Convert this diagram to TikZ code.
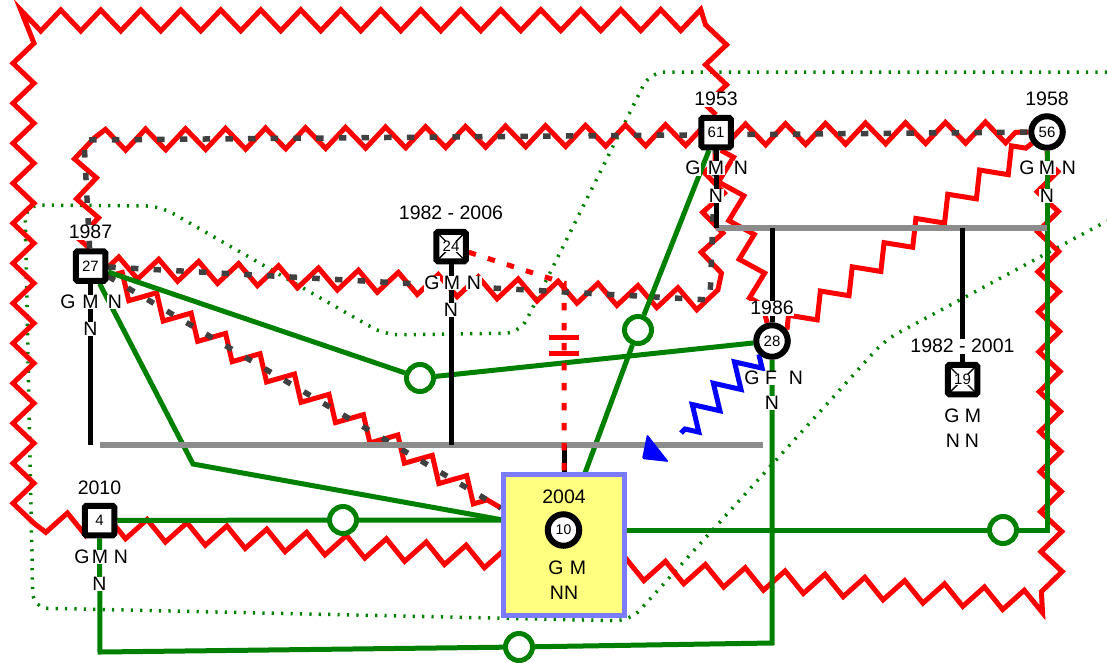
\documentclass[tikz,border=0pt]{standalone}
\usepackage{fontspec}
\setmainfont{Liberation Sans}
\usetikzlibrary{decorations.pathmorphing}
\pgfdeclarelayer{bg}
\pgfsetlayers{bg,main}
\definecolor{hred}{HTML}{FF0000}
\definecolor{grn}{HTML}{008000}
\definecolor{barc}{HTML}{8C8C8C}
\definecolor{dgray}{HTML}{404040}
\definecolor{boxfill}{HTML}{FFFF80}
\definecolor{boxedge}{HTML}{7B7BFF}
\newcommand\gnum{\fontsize{15}{15}\selectfont}
\newcommand\glbl{\fontsize{19.5}{20}\selectfont}
\begin{document}
\begin{tikzpicture}[x=1pt,y=-1pt,
  male/.style={draw=black,line width=6pt,fill=white,minimum size=29.5pt,inner sep=0pt,rounded corners=1.5pt,font=\gnum},
  female/.style={circle,draw=black,line width=6pt,fill=white,minimum size=31.5pt,inner sep=0pt,font=\gnum},
  lbl/.style={fill=white,inner sep=0.6pt,font=\glbl},
  plainlbl/.style={inner sep=0.6pt,font=\glbl},
  numlbl/.style={fill=white,inner sep=0.3pt,font=\gnum},
  relc/.style={circle,draw=grn,fill=white,line width=5pt,minimum size=27pt,inner sep=0pt},
  hostline/.style={draw=hred,line width=5pt,decorate,decoration={zigzag,segment length=40pt,amplitude=10.5pt}},
  distline/.style={draw=dgray,line width=5.5pt,dash pattern=on 7.5pt off 15.2pt},
  closeline/.style={draw=grn,line width=5pt},
  bndline/.style={draw=grn,line width=3.5pt,dash pattern=on 2.2pt off 7.2pt,rounded corners=15pt},
  barline/.style={draw=barc,line width=6pt},
  kinline/.style={draw=black,line width=5pt},
  cutline/.style={draw=hred,line width=5pt,dash pattern=on 7.5pt off 12.5pt},
  blueline/.style={draw=blue,line width=5pt,decorate,decoration={zigzag,segment length=30pt,amplitude=12pt}},
]
\useasboundingbox (0,0) rectangle (1107,662);

% ---- coordinates ----
\coordinate (u1) at (716,228);
\coordinate (u2) at (1047,228);
\coordinate (l1) at (100,445);
\coordinate (l2) at (763,445);
\coordinate (d27) at (90.5,445);
\coordinate (d24) at (451,445);
\coordinate (d2004) at (564,445);
\coordinate (e28) at (772,228);
\coordinate (e19) at (962.5,228);
\coordinate (k1) at (193,464);
\coordinate (k3) at (1047,530);
\coordinate (k4) at (772,643);
\coordinate (k5) at (100,652);
\coordinate (bL) at (503,520);
\coordinate (bR) at (626,530);
\coordinate (bT) at (585,473);
\coordinate (ct) at (564,283);
\coordinate (bz) at (681,433);
\coordinate (h1) at (716,20);
\coordinate (h2) at (23.5,20.5);
\coordinate (h3) at (23.5,520);
\coordinate (h4) at (1052,603);
\coordinate (h5) at (84,140);
\coordinate (h6) at (710,300);

% ---- box of 2004 ----
\node[draw=boxedge,fill=boxfill,line width=5pt,minimum width=121pt,minimum height=141pt,inner sep=0pt] (b2004) at (564,545) {};

% ---- persons ----
\node[male] (p27) at (90.5,266) {27};
\node[male] (p24) at (451,246.5) {};
\draw[line width=1.4pt] (p24) ++(-12,-12) -- ++(24,24);
\draw[line width=1.4pt] (p24) ++(12,-12) -- ++(-24,24);
\node[numlbl] (n24) at (p24) {24};
\node[male] (p61) at (716,132.5) {61};
\node[female] (p56) at (1047,132) {56};
\node[female] (p28) at (772,341) {28};
\node[male] (p19) at (962.5,379.5) {};
\draw[line width=1.4pt] (p19) ++(-12,-12) -- ++(24,24);
\draw[line width=1.4pt] (p19) ++(12,-12) -- ++(-24,24);
\node[numlbl] (n19) at (p19) {19};
\node[male] (p4) at (99.5,520.5) {4};
\node[female,font=\fontsize{14}{14}\selectfont] (p10) at (563.5,530) {10};

% ---- relation circles ----
\node[relc] (c1) at (420,378) {};
\node[relc] (c2) at (343,520) {};
\node[relc] (c3) at (1003,530) {};
\node[relc] (c4) at (638,330) {};
\node[relc] (c5) at (519,647) {};

% ---- labels ----
\node[lbl] (y27) at (90.5,232) {1987};
\node[lbl] (g27) at (68,302) {G};
\node[lbl] (m27) at (90.5,302) {M};
\node[lbl] (n27) at (115,302) {N};
\node[lbl] (nn27) at (90.5,329) {N};

\node[lbl] (y24) at (451,213) {1982 - 2006};
\node[lbl] (g24) at (432,283) {G};
\node[lbl] (m24) at (452,283) {M};
\node[lbl] (n24b) at (474,283) {N};
\node[lbl] (nn24) at (451,310) {N};

\node[lbl] (y61) at (716,99) {1953};
\node[lbl] (g61) at (693,168) {G};
\node[lbl] (m61) at (716,168) {M};
\node[lbl] (n61) at (741,168) {N};
\node[lbl] (nn61) at (716,196) {N};

\node[lbl] (y56) at (1047,99) {1958};
\node[lbl] (g56) at (1027,168) {G};
\node[lbl] (m56) at (1047,168) {M};
\node[lbl] (n56) at (1069,168) {N};
\node[lbl] (nn56) at (1047,196) {N};

\node[lbl] (y28) at (772,308) {1986};
\node[lbl] (g28) at (752,378) {G};
\node[lbl] (f28) at (771,378) {F};
\node[lbl] (n28) at (796,378) {N};
\node[lbl] (nn28) at (772,403) {N};

\node[lbl] (y19) at (962.5,346) {1982 - 2001};
\node[lbl] (g19) at (952,416) {G};
\node[lbl] (m19) at (973,416) {M};
\node[lbl] (n19a) at (953,441) {N};
\node[lbl] (n19b) at (972,441) {N};

\node[lbl] (y4) at (99.5,488) {2010};
\node[lbl] (g4) at (82,557) {G};
\node[lbl] (m4) at (100,557) {M};
\node[lbl] (n4) at (121,557) {N};
\node[lbl] (nn4) at (99.5,584) {N};

\node[plainlbl] (y10) at (564,497) {2004};
\node[plainlbl] (g10) at (556,568) {G};
\node[plainlbl] (m10) at (578,568) {M};
\node[plainlbl] (nn10) at (564,593) {NN};

% ---- connectors (behind) ----
\begin{pgfonlayer}{bg}
\draw[bndline] (1107,72) -- (650,72) -- (520,333) -- (385,335) -- (160,206) -- (25,205) -- (33,608) -- (630,621) -- (885,340) -- (1107,221);

\draw[hostline] (p61) -- (h1) -- (h2) -- (h3) -- (h4) -- (p56);
\draw[hostline] (p27) -- (h5) -- (p56);
\draw[hostline] (p27) -- (h6) -- (p61);
\draw[hostline] (p27) -- (b2004);
\draw[hostline] (p28) -- (p56);
\draw[hostline] (p61) -- (p28);

\draw[distline] (p27) -- (h5) -- (p56);
\draw[distline] (p27) -- (h6) -- (p61);
\draw[distline] (p27) -- (b2004);

\draw[closeline] (p27) -- (c1) -- (p28);
\draw[closeline] (p27) -- (k1) -- (bL);
\draw[closeline] (p61) -- (c4) -- (bT);
\draw[closeline] (p4) -- (c2) -- (bL);
\draw[closeline] (bR) -- (c3) -- (k3) -- (p56);
\draw[closeline] (p28) -- (k4) -- (c5) -- (k5) -- (p4);

\draw[barline] (u1) -- (u2);
\draw[barline] (l1) -- (l2);

\draw[kinline] (p27) -- (d27);
\draw[kinline] (p24) -- (d24);
\draw[kinline] (d2004) -- (b2004.north);
\draw[kinline] (p61) -- (u1);
\draw[kinline] (p28) -- (e28);
\draw[kinline] (p19) -- (e19);

\draw[blueline] (p28) -- (bz);
\fill[blue,rounded corners=1.5pt] (647,434) -- (642,459) -- (669,462) -- cycle;

\draw[cutline] (p24) -- (ct) -- (b2004.north);
\draw[draw=hred,line width=5pt] (549,337) -- (579,337) (549,353) -- (579,353);
\end{pgfonlayer}
\end{tikzpicture}
\end{document}
